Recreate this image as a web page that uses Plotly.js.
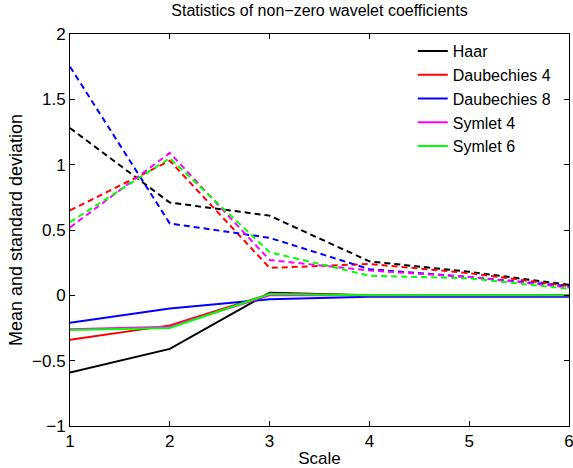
<!DOCTYPE html>
<html>
<head>
<meta charset="utf-8">
<script src="https://cdn.plot.ly/plotly-3.0.1.min.js"></script>
<style>html,body{margin:0;padding:0;background:#fff;}#chart{width:573px;height:468px;}</style>
</head>
<body>
<div id="chart"></div>
<script>
var scales = [1, 2, 3, 4, 5, 6];
var names = ["Haar", "Daubechies 4", "Daubechies 8", "Symlet 4", "Symlet 6"];
var colors = ["#000000", "#ff0000", "#0000ff", "#ff00ff", "#00ff00"];

// means (solid)
var meanHaar = [-0.59, -0.41, 0.02, 0.0, 0.0, 0.0];
var meanDb4  = [-0.34, -0.23, 0.01, 0.0, 0.0, 0.0];
var meanDb8  = [-0.21, -0.10, -0.03, -0.01, -0.01, -0.01];
var meanSym4 = [-0.26, -0.24, 0.0, 0.0, 0.0, 0.0];
var meanSym6 = [-0.265, -0.25, 0.01, 0.0, 0.0, 0.0];

// standard deviations (dashed)
var stdHaar = [1.28, 0.71, 0.61, 0.26, 0.18, 0.08];
var stdDb4  = [0.65, 1.03, 0.21, 0.24, 0.17, 0.07];
var stdDb8  = [1.75, 0.55, 0.44, 0.20, 0.14, 0.07];
var stdSym4 = [0.52, 1.09, 0.27, 0.19, 0.14, 0.06];
var stdSym6 = [0.56, 1.05, 0.33, 0.15, 0.13, 0.05];

var xTickText = ["1", "2", "3", "4", "5", "6"];
var yTickVals = [-1, -0.5, 0, 0.5, 1, 1.5, 2];
var yTickText = ["\u22121", "\u22120.5", "0", "0.5", "1", "1.5", "2"];

var means = [meanHaar, meanDb4, meanDb8, meanSym4, meanSym6];
var stds = [stdHaar, stdDb4, stdDb8, stdSym4, stdSym6];

var traces = [];
for (var i = 0; i < names.length; i++) {
  traces.push({x: scales, y: means[i], type: "scatter", mode: "lines", name: names[i],
    line: {color: colors[i], width: 2}, showlegend: true});
}
for (var i = 0; i < names.length; i++) {
  traces.push({x: scales, y: stds[i], type: "scatter", mode: "lines", name: names[i] + " std",
    line: {color: colors[i], width: 2, dash: "6px,4px"}, showlegend: false});
}

var font = "Liberation Sans, Arial, Helvetica, sans-serif";
var layout = {
  width: 573, height: 468,
  margin: {l: 70, r: 4, t: 34, b: 42},
  paper_bgcolor: "#fff", plot_bgcolor: "#fff",
  font: {family: font, color: "#000", size: 17},
  title: {text: "Statistics of non\u2212zero wavelet coefficients", font: {size: 16, family: font},
    x: 0.5, xanchor: "center", y: 0.99, yanchor: "top", xref: "paper"},
  xaxis: {range: [1, 6], tickvals: scales, ticktext: xTickText,
    ticks: "inside", ticklen: 5, tickcolor: "#000", showline: true, linecolor: "#000", linewidth: 1,
    mirror: "ticks", showgrid: false, zeroline: false, tickfont: {size: 17},
    ticklabeloverflow: "allow",
    title: {text: "Scale", font: {size: 17}, standoff: 2}},
  yaxis: {range: [-1, 2], tickvals: yTickVals, ticktext: yTickText,
    ticks: "inside", ticklen: 5, tickcolor: "#000", showline: true, linecolor: "#000", linewidth: 1,
    mirror: "ticks", showgrid: false, zeroline: false, tickfont: {size: 17},
    ticklabeloverflow: "allow",
    title: {text: "Mean and standard deviation", font: {size: 18}, standoff: 4}},
  legend: {x: 0.687, y: 1.0, xanchor: "left", yanchor: "top", bgcolor: "#fff",
    borderwidth: 0, font: {size: 16, family: font}, itemwidth: 30},
  showlegend: true
};

Plotly.newPlot("chart", traces, layout, {displayModeBar: false, staticPlot: true});
</script>
</body>
</html>
